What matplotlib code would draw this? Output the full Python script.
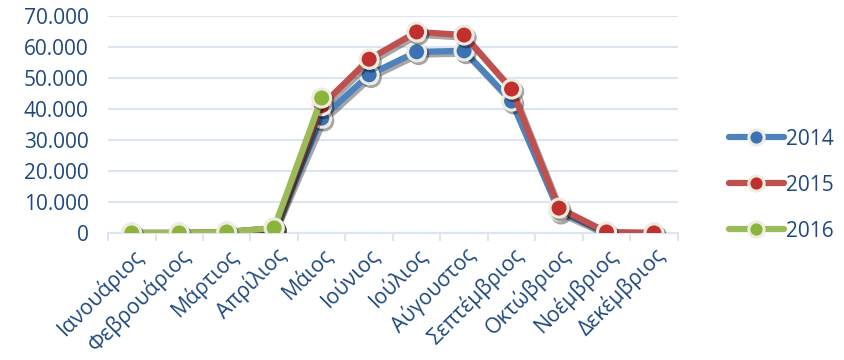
import matplotlib
matplotlib.use('Agg')
import matplotlib.pyplot as plt
import matplotlib.patheffects as pe
from matplotlib.ticker import FuncFormatter, FixedLocator

months = ['Ιανουάριος', 'Φεβρουάριος', 'Μάρτιος', 'Απρίλιος', 'Μάιος', 'Ιούνιος',
          'Ιούλιος', 'Αύγουστος', 'Σεπτέμβριος', 'Οκτώβριος', 'Νοέμβριος', 'Δεκέμβριος']
v2014 = [0, 0, 300, 1500, 37000, 51000, 58400, 58700, 42500, 7000, 0, 0]
v2015 = [0, 0, 300, 1500, 41000, 56000, 64800, 63800, 46400, 8000, 300, 0]
v2016 = [0, 0, 300, 1600, 43500]
years = ['2014', '2015', '2016']

colors = {'2014': ('#4F81BD', '#3B72B5'),
          '2015': ('#C0504D', '#C0302E'),
          '2016': ('#9BBB59', '#8AB43A')}
text_col = '#1F497D'
grid_col = '#DCE6F2'

plt.rcParams['font.family'] = ['Open Sans', 'DejaVu Sans']

fig = plt.figure(figsize=(8.44, 3.6), dpi=100)
ax = fig.add_axes([0.128, 0.353, 0.675, 0.603])

shadow = [pe.SimpleLineShadow(offset=(1.5, -2), shadow_color='black', alpha=0.35), pe.Normal()]
for year, vals in zip(years, [v2014, v2015, v2016]):
    line_c, mark_c = colors[year]
    ax.plot(range(len(vals)), vals, color=line_c, lw=4.5, marker='o', ms=13,
            markerfacecolor=mark_c, markeredgecolor='#EEECE1', markeredgewidth=2.2,
            solid_capstyle='round', label=year, path_effects=shadow, zorder=3)

ax.set_xlim(-0.5, 11.5)
ax.set_ylim(0, 70000)
ax.set_yticks(range(0, 70001, 10000))
ax.yaxis.set_major_formatter(FuncFormatter(lambda v, p: f'{int(v):,}'.replace(',', '.')))
ax.grid(axis='y', color=grid_col, lw=1.5)
ax.set_axisbelow(True)

ax.set_xticks(range(12))
ax.set_xticklabels(months, rotation=45, ha='right', rotation_mode='anchor')
ax.xaxis.set_minor_locator(FixedLocator([i - 0.5 for i in range(13)]))
ax.tick_params(axis='x', which='major', length=0, pad=8, labelsize=15.3, labelcolor=text_col)
ax.tick_params(axis='x', which='minor', length=6, width=1.5, color=grid_col, direction='out')
ax.tick_params(axis='y', length=0, pad=14, labelsize=15, labelcolor=text_col)

for s in ['left', 'right', 'top']:
    ax.spines[s].set_visible(False)
ax.spines['bottom'].set_color(grid_col)
ax.spines['bottom'].set_linewidth(1.5)

leg = fig.legend(loc='center left', bbox_to_anchor=(0.842, 0.486), frameon=False,
                 fontsize=15, handlelength=2.6, handletextpad=0.1, labelspacing=1.2,
                 labelcolor=text_col)
for h in leg.legend_handles:
    h.set_path_effects([])
    h.set_markersize(11)

fig.savefig('out.png', dpi=100)
